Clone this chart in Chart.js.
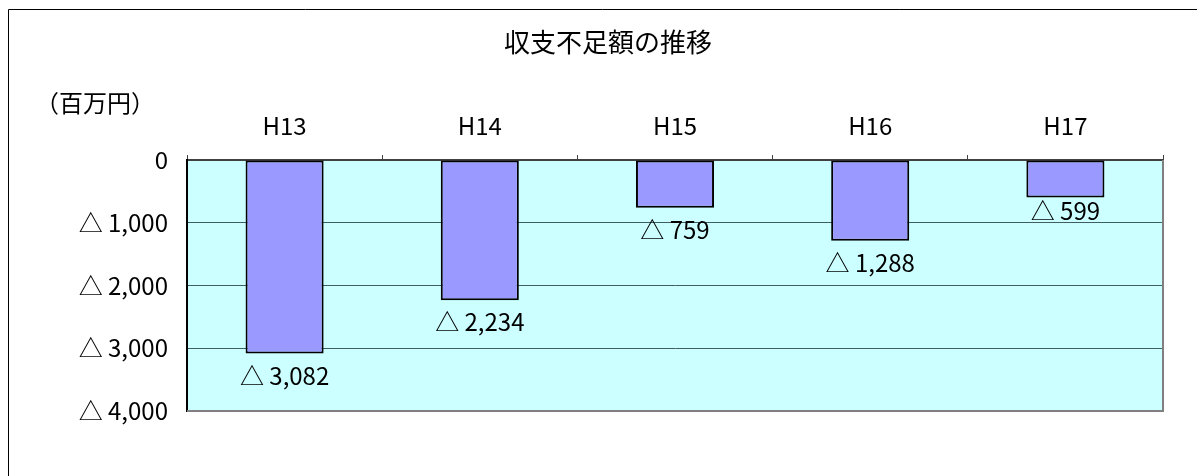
<!DOCTYPE html>
<html>
<head>
<meta charset="utf-8">
<script src="https://cdn.jsdelivr.net/npm/chart.js@4/dist/chart.umd.min.js"></script>
<style>
  html, body { margin: 0; padding: 0; background: #fff; }
  #wrap { width: 1197px; height: 476px; position: relative; }
</style>
</head>
<body>
<div id="wrap"><canvas id="c" width="1197" height="476"></canvas></div>
<script>
const categories = ['H13', 'H14', 'H15', 'H16', 'H17'];
const deficitValues = [-3082, -2234, -759, -1288, -599];
const yTickValues = [0, -1000, -2000, -3000, -4000];
const yTickLabels = ['0', '△ 1,000', '△ 2,000', '△ 3,000', '△ 4,000'];
const titleText = '収支不足額の推移';
const unitText = '（百万円）';

const FONT = "'Noto Sans CJK JP', 'Liberation Sans', sans-serif";

function fmt(v) {
  if (v === 0) return '0';
  return '△ ' + Math.abs(v).toLocaleString('en-US');
}

const decorPlugin = {
  id: 'decor',
  beforeDraw(chart) {
    const ctx = chart.ctx;
    ctx.save();
    ctx.strokeStyle = '#000';
    ctx.lineWidth = 1;
    ctx.beginPath();
    ctx.moveTo(8.5, chart.height);
    ctx.lineTo(8.5, 9.5);
    ctx.lineTo(chart.width, 9.5);
    ctx.stroke();
    const a = chart.chartArea;
    ctx.fillStyle = '#CCFFFF';
    ctx.fillRect(a.left, a.top, a.right - a.left, a.bottom - a.top);
    ctx.fillStyle = '#000';
    ctx.font = '24px ' + FONT;
    ctx.textAlign = 'center';
    ctx.textBaseline = 'middle';
    ctx.fillText(unitText, 95, 103);
    ctx.restore();
  },
  beforeDatasetsDraw(chart) {
    const ctx = chart.ctx;
    const a = chart.chartArea;
    ctx.save();
    ctx.strokeStyle = '#808080';
    ctx.lineWidth = 2;
    ctx.beginPath();
    ctx.moveTo(a.left, a.bottom);
    ctx.lineTo(a.right, a.bottom);
    ctx.lineTo(a.right, a.top);
    ctx.stroke();
    ctx.restore();
  },
  afterDatasetsDraw(chart, args, opts) {
    const ctx = chart.ctx;
    const meta = chart.getDatasetMeta(0);
    const ds = chart.data.datasets[0];
    ctx.save();
    ctx.fillStyle = '#000';
    ctx.font = '24px ' + FONT;
    ctx.textAlign = 'center';
    ctx.textBaseline = 'middle';
    meta.data.forEach((el, i) => {
      const off = (opts.offsets && opts.offsets[i] != null) ? opts.offsets[i] : 22;
      ctx.fillText(fmt(ds.data[i]), el.x, el.y + off);
    });
    ctx.restore();
  }
};

new Chart(document.getElementById('c'), {
  type: 'bar',
  data: {
    labels: categories,
    datasets: [{
      data: deficitValues,
      backgroundColor: '#9999FF',
      borderColor: '#000000',
      borderWidth: 2,
      borderSkipped: false,
      barPercentage: 0.4,
      categoryPercentage: 1.0
    }]
  },
  options: {
    responsive: false,
    animation: false,
    layout: { padding: { left: 53, right: 34, top: 0, bottom: 65 } },
    plugins: {
      legend: { display: false },
      tooltip: { enabled: false },
      title: {
        display: true,
        text: titleText,
        color: '#000',
        font: { family: FONT, size: 26, weight: 'normal' },
        padding: { top: 27, bottom: 0 }
      },
      decor: { offsets: [22, 22, 22, 22, 13] }
    },
    scales: {
      x: {
        position: 'top',
        grid: {
          offset: true,
          drawOnChartArea: false,
          drawTicks: true,
          tickLength: 5,
          color: '#404040',
          lineWidth: 1
        },
        border: { display: true, color: '#404040', width: 2 },
        ticks: {
          color: '#000',
          font: { family: FONT, size: 24 },
          padding: 15,
          maxRotation: 0
        },
        afterFit(scale) { scale.height = 101.8; }
      },
      y: {
        min: -4000,
        max: 0,
        afterBuildTicks(scale) {
          scale.ticks = yTickValues.map(v => ({ value: v }));
        },
        grid: {
          drawTicks: false,
          color: '#3f5f5f',
          lineWidth: 1
        },
        border: { display: true, color: '#000', width: 2 },
        ticks: {
          color: '#000',
          font: { family: FONT, size: 24 },
          padding: 19,
          callback(v) {
            const i = yTickValues.indexOf(v);
            return i >= 0 ? yTickLabels[i] : fmt(v);
          }
        },
        afterFit(scale) { scale.width = 134; }
      }
    }
  },
  plugins: [decorPlugin]
});
</script>
</body>
</html>
